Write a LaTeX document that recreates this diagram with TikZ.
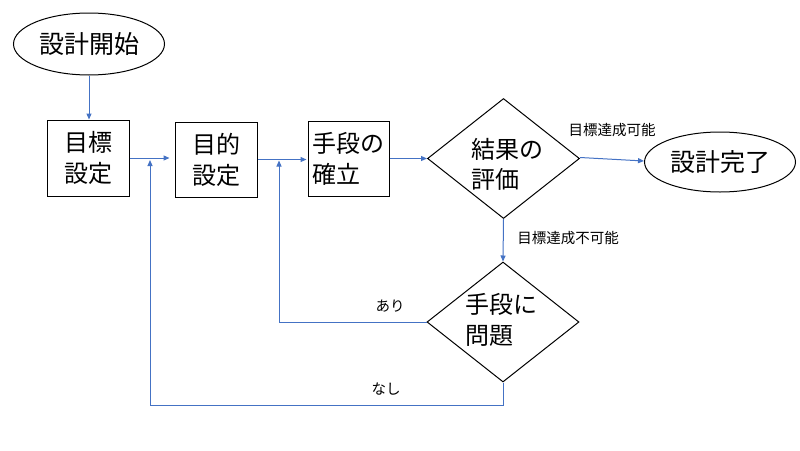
\documentclass[tikz,border=0pt]{standalone}
\usepackage{fontspec}
\setmainfont{Noto Sans CJK JP}
\usetikzlibrary{shapes.geometric,arrows.meta}
\definecolor{flowblue}{RGB}{68,114,196}
\begin{document}
\begin{tikzpicture}[x=1pt,y=-1pt,
  flow/.style={draw=flowblue, line width=1pt, -{Triangle[length=6pt,width=5pt]}},
  box/.style={draw, line width=1pt, minimum width=82pt, minimum height=76pt, inner sep=0pt, font=\fontsize{24}{31}\selectfont, align=left},
  term/.style={ellipse, draw, line width=1pt, minimum width=151pt, minimum height=62pt, inner sep=0pt, font=\fontsize{25}{30}\selectfont},
  dec/.style={diamond, draw, line width=1pt, minimum width=152pt, minimum height=120pt, inner sep=0pt},
  bigtxt/.style={font=\fontsize{24}{30}\selectfont, align=left, inner sep=0pt},
  smalltxt/.style={font=\fontsize{14.5}{16}\selectfont, inner sep=0pt}]
\useasboundingbox (0,0) rectangle (800,450);

\node[term] (start) at (89,44) {設計開始};
\node[box] (b1) at (88,158) {目標\\設定};
\node[box, minimum height=75pt] (b2) at (216,159.5) {目的\\設定};
\node[box, minimum width=81pt, minimum height=75pt] (b3) at (348.5,158.5) {手段の\\確立};
\node[dec] (d1) at (503.5,158.5) {};
\node[bigtxt] (t1) at (507,164) {結果の\\評価};
\node[term, minimum height=60pt] (end) at (720,162) {設計完了};
\node[dec] (d2) at (503,322) {};
\node[bigtxt, font=\fontsize{24}{31}\selectfont] (t2) at (501,320) {手段に\\問題};

\node[smalltxt] (l1) at (612,130) {目標達成可能};
\node[smalltxt] (l2) at (568,238) {目標達成不可能};
\node[smalltxt] (l3) at (390,306) {あり};
\node[smalltxt] (l4) at (386,389) {なし};

\coordinate (j1) at (150,160);
\coordinate (j2) at (279,160.5);
\coordinate (bl) at (150,405);

\draw[flow] (start.south) -- (start.south |- b1.north);
\draw[flow] (b1.east) -- ([xshift=-5pt]b1.east -| b2.west);
\draw[flow] (b2.east) -- ([xshift=-1pt]b2.east -| b3.west);
\draw[flow] (b3.east) -- (d1.west);
\draw[flow] ([yshift=1pt]d1.east) -- ([yshift=1pt]end.west);
\draw[flow] (d1.south) -- (d2.north);
\draw[flow] (d2.west) -| (j2);
\draw[flow] (d2.south) |- (bl) -- (j1);
\end{tikzpicture}
\end{document}
